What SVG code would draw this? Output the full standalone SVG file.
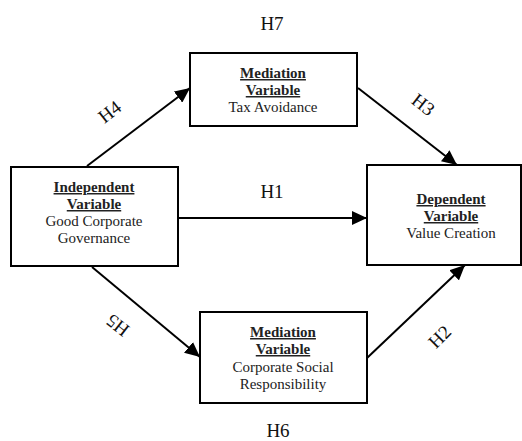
<svg xmlns="http://www.w3.org/2000/svg" width="522" height="441" viewBox="0 0 522 441">
<style>
.box{fill:#fff;stroke:#000;stroke-width:2}
.t{font-family:"Liberation Serif","Times New Roman",serif;font-size:15px;fill:#222;text-anchor:middle}
.b{font-weight:bold;text-decoration:underline}
.h{font-family:"Liberation Serif","Times New Roman",serif;font-size:19px;fill:#111;text-anchor:middle}
.c{stroke:#000;stroke-width:2;fill:none;marker-end:url(#ah)}
</style>
<defs>
<marker id="ah" markerUnits="userSpaceOnUse" markerWidth="16" markerHeight="14" refX="15" refY="7" orient="auto">
<path d="M0,0 L15,7 L0,14 z" fill="#000"/>
</marker>
</defs>
<g id="connectors">
<line class="c" x1="87" y1="166" x2="190" y2="88"/>
<line class="c" x1="358" y1="88" x2="457" y2="165"/>
<line class="c" x1="178" y1="218" x2="367" y2="218"/>
<line class="c" x1="92" y1="267" x2="200" y2="357"/>
<line class="c" x1="367" y1="358" x2="465" y2="265"/>
</g>
<g id="labels">
<text class="h" x="272" y="30">H7</text>
<text class="h" x="272" y="198">H1</text>
<text class="h" x="278" y="437">H6</text>
<text class="h" transform="translate(110,112) rotate(-38)" y="6">H4</text>
<text class="h" transform="translate(423,105) rotate(38)" y="6">H3</text>
<text class="h" transform="translate(118,325) rotate(218)" y="6">H5</text>
<text class="h" transform="translate(440,337) rotate(-45)" y="6">H2</text>
</g>
<g id="tax-avoidance">
<rect class="box" x="190" y="53" width="167" height="73"/>
<text class="t b" x="273" y="78">Mediation</text>
<text class="t b" x="273" y="95">Variable</text>
<text class="t" x="273" y="112">Tax Avoidance</text>
</g>
<g id="good-corporate-governance">
<rect class="box" x="11" y="167" width="167" height="99"/>
<text class="t b" x="94" y="192">Independent</text>
<text class="t b" x="94" y="209">Variable</text>
<text class="t" x="94" y="226">Good Corporate</text>
<text class="t" x="94" y="243">Governance</text>
</g>
<g id="value-creation">
<rect class="box" x="367" y="165" width="154" height="100"/>
<text class="t b" x="451" y="204">Dependent</text>
<text class="t b" x="451" y="221">Variable</text>
<text class="t" x="451" y="238">Value Creation</text>
</g>
<g id="csr">
<rect class="box" x="200" y="312" width="167" height="91"/>
<text class="t b" x="283" y="337">Mediation</text>
<text class="t b" x="283" y="354">Variable</text>
<text class="t" x="283" y="372">Corporate Social</text>
<text class="t" x="283" y="389">Responsibility</text>
</g>
</svg>
